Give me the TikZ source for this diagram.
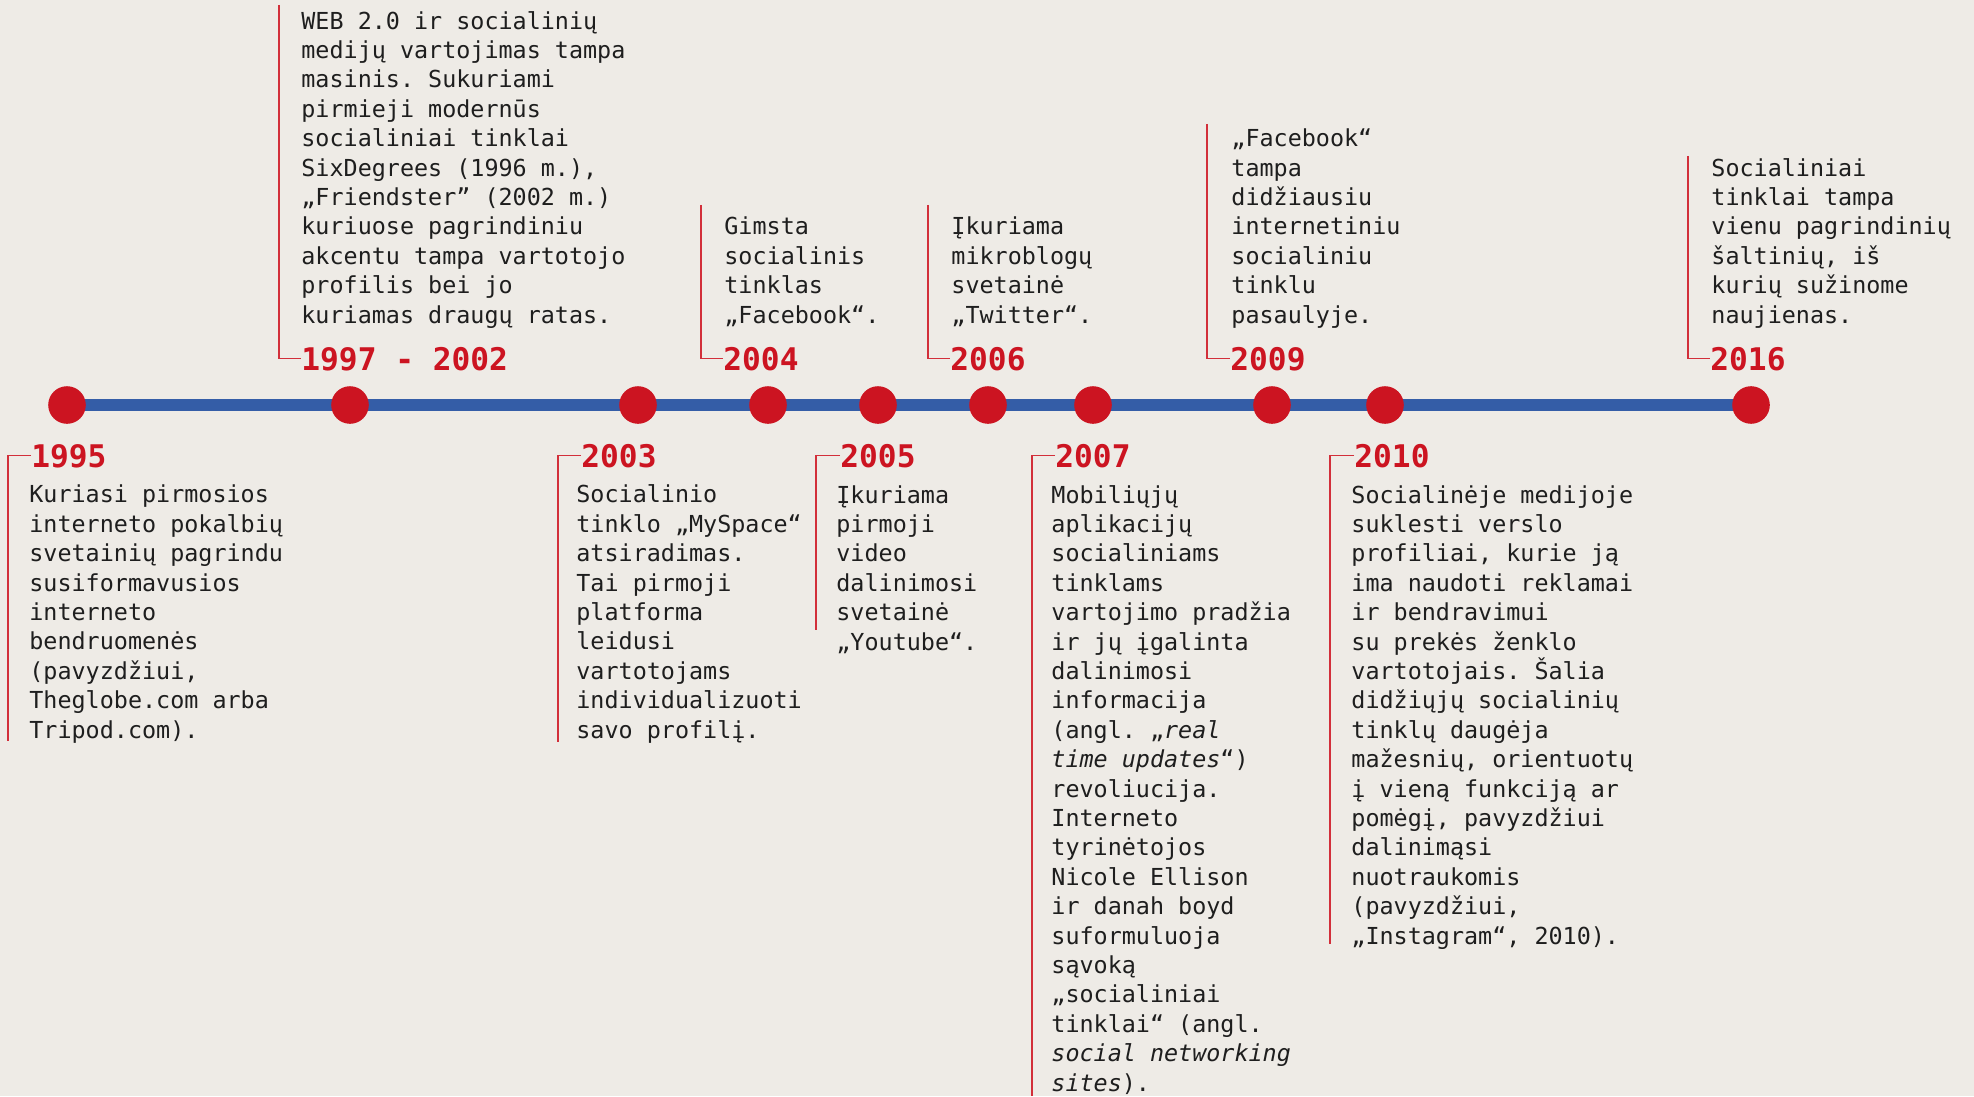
\documentclass[tikz,border=0pt]{standalone}
\usepackage{fontspec}
\setmonofont{DejaVu Sans Mono}
\usetikzlibrary{positioning}
\definecolor{paper}{HTML}{EEEBE6}
\definecolor{dotred}{HTML}{CC1421}
\definecolor{yearred}{HTML}{CC1421}
\definecolor{linered}{HTML}{D22F3A}
\definecolor{axisblue}{HTML}{345DA7}
\definecolor{ink}{HTML}{1E1E1E}
\tikzset{x = 0.5pt, y = -0.5pt,
         dot/.style     = {circle, fill = dotred, minimum size = 18.8pt, inner sep = 0pt},
         axis/.style    = {draw = axisblue, line width = 6.4pt},
         year/.style    = {anchor = base west, inner sep = 0pt, text = yearred,
                           font = {\ttfamily\bfseries\fontsize{15.6pt}{18pt}\selectfont}},
         desc/.style    = {anchor = base west, inner sep = 0pt, align = left, text = ink,
                           font = {\ttfamily\fontsize{11.7pt}{14.7pt}\selectfont}},
         bracket/.style = {draw = linered, line width = 0.6pt}}

\begin{document}
\begin{tikzpicture}
        \fill[paper] (0,0) rectangle (1974,1096);

        % timeline
        \coordinate (start) at (67,405);
        \coordinate (stop)  at (1768,405);
        \draw[axis] (start) -- (stop);

        \node[dot] (d1995) at (67,405)   {};
        \node[dot] (d1997) at (350,405)  {};
        \node[dot] (d2003) at (638,405)  {};
        \node[dot] (d2004) at (768,405)  {};
        \node[dot] (d2005) at (878,405)  {};
        \node[dot] (d2006) at (988,405)  {};
        \node[dot] (d2007) at (1093,405) {};
        \node[dot] (d2009) at (1272,405) {};
        \node[dot] (d2010) at (1385,405) {};
        \node[dot] (d2016) at (1751,405) {};

        % events above the line (texts sit on their last line)
        \node[year] (y1997) at (301,370)  {1997 - 2002};
        \node[year] (y2004) at (723,370)  {2004};
        \node[year] (y2006) at (950,370)  {2006};
        \node[year] (y2009) at (1230,370) {2009};
        \node[year] (y2016) at (1710,370) {2016};

        \node[desc] (t1997) at (301,323)  {WEB 2.0 ir socialinių\\medijų vartojimas tampa\\masinis. Sukuriami\\pirmieji modernūs\\socialiniai tinklai\\SixDegrees (1996 m.),\\„Friendster” (2002 m.)\\kuriuose pagrindiniu\\akcentu tampa vartotojo\\profilis bei jo\\kuriamas draugų ratas.};
        \node[desc] (t2004) at (724,323)  {Gimsta\\socialinis\\tinklas\\„Facebook“.};
        \node[desc] (t2006) at (951,323)  {Įkuriama\\mikroblogų\\svetainė\\„Twitter“.};
        \node[desc] (t2009) at (1231,323) {„Facebook“\\tampa\\didžiausiu\\internetiniu\\socialiniu\\tinklu\\pasaulyje.};
        \node[desc] (t2016) at (1711,323) {Socialiniai\\tinklai tampa\\vienu pagrindinių\\šaltinių, iš\\kurių sužinome\\naujienas.};

        % events below the line
        \node[year] (y1995) at (31,467)   {1995};
        \node[year] (y2003) at (581,467)  {2003};
        \node[year] (y2005) at (840,467)  {2005};
        \node[year] (y2007) at (1055,467) {2007};
        \node[year] (y2010) at (1354,467) {2010};

        \node[desc] (t1995) at (29,738)   {Kuriasi pirmosios\\interneto pokalbių\\svetainių pagrindu\\susiformavusios\\interneto\\bendruomenės\\(pavyzdžiui,\\Theglobe.com arba\\Tripod.com).};
        \node[desc] (t2003) at (576,738)  {Socialinio\\tinklo „MySpace“\\atsiradimas.\\Tai pirmoji\\platforma\\leidusi\\vartotojams\\individualizuoti\\savo profilį.};
        \node[desc] (t2005) at (836,650)  {Įkuriama\\pirmoji\\video\\dalinimosi\\svetainė\\„Youtube“.};
        \node[desc] (t2007) at (1051,1091) {Mobiliųjų\\aplikacijų\\socialiniams\\tinklams\\vartojimo pradžia\\ir jų įgalinta\\dalinimosi\\informacija\\(angl. „\textit{real}\\\textit{time updates}“)\\revoliucija.\\Interneto\\tyrinėtojos\\Nicole Ellison\\ir danah boyd\\suformuluoja\\sąvoką\\„socialiniai\\tinklai“ (angl.\\\textit{social networking}\\\textit{sites}).};
        \node[desc] (t2010) at (1351,944) {Socialinėje medijoje\\suklesti verslo\\profiliai, kurie ją\\ima naudoti reklamai\\ir bendravimui\\su prekės ženklo\\vartotojais. Šalia\\didžiųjų socialinių\\tinklų daugėja\\mažesnių, orientuotų\\į vieną funkciją ar\\pomėgį, pavyzdžiui\\dalinimąsi\\nuotraukomis\\(pavyzdžiui,\\„Instagram“, 2010).};

        % brackets
        \coordinate (b1997) at (279,5);
        \coordinate (b2004) at (701,205);
        \coordinate (b2006) at (928,205);
        \coordinate (b2009) at (1207,124);
        \coordinate (b2016) at (1688,156);
        \coordinate (b1995) at (8,741);
        \coordinate (b2003) at (558,742);
        \coordinate (b2005) at (816,630);
        \coordinate (b2007) at (1032,1096);
        \coordinate (b2010) at (1330,944);

        \draw[bracket] (b1997) |- (y1997.west);
        \draw[bracket] (b2004) |- (y2004.west);
        \draw[bracket] (b2006) |- (y2006.west);
        \draw[bracket] (b2009) |- (y2009.west);
        \draw[bracket] (b2016) |- (y2016.west);
        \draw[bracket] (y1995.west) -| (b1995);
        \draw[bracket] (y2003.west) -| (b2003);
        \draw[bracket] (y2005.west) -| (b2005);
        \draw[bracket] (y2007.west) -| (b2007);
        \draw[bracket] (y2010.west) -| (b2010);
\end{tikzpicture}
\end{document}
